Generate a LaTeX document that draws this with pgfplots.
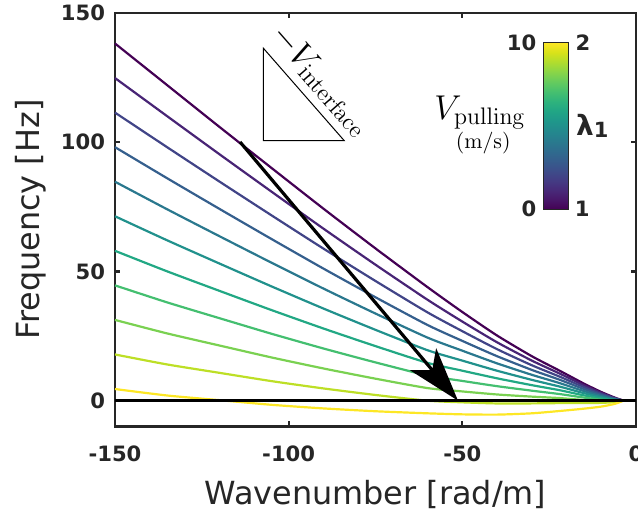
\documentclass[border=0pt]{standalone}
\usepackage[no-math]{fontspec}
\setmainfont{DejaVu Sans}
\usepackage{pgfplots}
\usepackage{pgfplotstable}
\pgfplotsset{compat=1.18}
\usetikzlibrary{arrows.meta}
\definecolor{c0}{HTML}{440154}
\definecolor{c1}{HTML}{482475}
\definecolor{c2}{HTML}{414487}
\definecolor{c3}{HTML}{355F8D}
\definecolor{c4}{HTML}{2A788E}
\definecolor{c5}{HTML}{21918C}
\definecolor{c6}{HTML}{22A884}
\definecolor{c7}{HTML}{44BF70}
\definecolor{c8}{HTML}{7AD151}
\definecolor{c9}{HTML}{BDDF26}
\definecolor{c10}{HTML}{FDE725}
\definecolor{axgray}{HTML}{262626}
\pgfplotstableread{
k     p0     p1     p2     p3     p4     p5     p6     p7     p8     p9     p10
-150  138.2  124.83 111.46 98.09  84.72  71.35  57.98  44.61  31.24  17.87  4.5
-135  122.1  110.09 98.08  86.07  74.06  62.05  50.04  38.03  26.02  14.01  2.0
-120  106.0  95.42  84.84  74.26  63.68  53.1   42.52  31.94  21.36  10.78  0.2
-105  90.1   80.93  71.76  62.59  53.42  44.25  35.08  25.91  16.74  7.57   -1.6
-90   74.3   66.57  58.84  51.11  43.38  35.65  27.92  20.19  12.46  4.73   -3.0
-75   58.9   52.6   46.3   40.0   33.7   27.4   21.1   14.8   8.5    2.2    -4.1
-60   43.9   39.02  34.14  29.26  24.38  19.5   14.62  9.74   4.86   -0.02  -4.9
-50   34.3   30.6   26.88  23.12  19.33  15.49  11.59  7.63   3.57   -0.65  -5.3
-40   25.2   22.58  19.92  17.2   14.42  11.58  8.64   5.6    2.39   -1.08  -5.4
-30   17.2   15.5   13.7   11.9   10.0   8.05   6.0    3.86   1.56   -1.06  -4.9
-22   11.6   10.5   9.3    8.1    6.8    5.45   4.05   2.56   1.0    -0.95  -4.0
-15   6.6    5.95   5.25   4.5    3.7    2.9    2.05   1.19   0.24   -0.95  -3.1
-10   3.35   3.0    2.6    2.2    1.78   1.33   0.86   0.36   -0.2   -0.85  -2.3
-6    1.12   0.98   0.83   0.67   0.5    0.33   0.15   -0.04  -0.28  -0.57  -1.2
-3.6  0      0      0      0      0      0      0      0      0      0      0
}\curves
\begin{document}
\begin{tikzpicture}
\begin{axis}[
  name=main,
  scale only axis, width=260.5bp, height=206.75bp,
  xmin=-150, xmax=0, ymin=-10, ymax=150,
  xtick={-150,-100,-50,0}, ytick={0,50,100,150},
  tick align=inside, major tick length=2.5bp,
  axis line style={line width=1.1bp, axgray},
  tick style={line width=1.1bp, axgray},
  /pgf/number format/assume math mode=true,
  ticklabel style={font=\fontsize{10.6}{12}\selectfont\bfseries, text=axgray},
  xticklabel style={yshift=-6bp},
  yticklabel style={xshift=-1.5bp},
  xlabel={Wavenumber [rad/m]}, ylabel={Frequency [Hz]},
  label style={font=\fontsize{16}{19}\selectfont, text=axgray},
  xlabel style={at={(axis description cs:0.5,-0.164)}, anchor=center},
  ylabel style={at={(axis description cs:-0.161,0.5)}, anchor=center},
  no markers, clip=false,
  colormap/viridis,
  point meta min=0, point meta max=10,
  colorbar shift/.style={},
  colorbar,
  colorbar style={
    at={(parent axis.south west)}, anchor=south west,
    xshift=214.2bp, yshift=108.6bp,
    width=12.5bp, height=83.3bp,
    ytick={0,10}, yticklabel pos=left,
    major tick length=0pt,
    axis line style={line width=0.6bp, axgray},
    /pgf/number format/assume math mode=true,
    yticklabel style={font=\fontsize{10.6}{12}\selectfont\bfseries, text=axgray},
  },
]
\pgfplotsinvokeforeach{0,...,10}{
  \addplot[color=c#1, line width=1.1bp, smooth, tension=0.4] table[x=k, y=p#1]{\curves};
}
\addplot[black, line width=1.5bp] coordinates {(-150,0) (0,0)};
\addplot[black, line width=1.6bp, -{Stealth[length=27bp, width=17bp, inset=7bp]}] coordinates {(-114,100.1) (-51.25,0)};
\addplot[black, line width=0.5bp, line join=miter] coordinates {(-107.3,136.4) (-107.3,100.6) (-84.0,100.6) (-107.3,136.4) (-107.3,100.6)};
\node[rotate=-48.8, font=\fontsize{16.5}{18}\selectfont] at (axis cs:-90.6,124.2) {$-V_{\mathrm{interface}}$};
\node[font=\fontsize{16.5}{18}\selectfont] at (axis cs:-44.9,111.5) {$V_{\mathrm{pulling}}$};
\node[font=\fontsize{11}{13}\selectfont] at (axis cs:-44,99.7) {$\mathrm{(m/s)}$};
\node[font=\fontsize{14}{16}\selectfont\bfseries, text=axgray] at (axis cs:-12.6,106.3) {λ\raisebox{-1.2bp}{\fontsize{10.5}{12}\selectfont 1}};
\node[font=\fontsize{10.6}{12}\selectfont\bfseries, text=axgray] at (axis cs:-15.3,138.5) {2};
\node[font=\fontsize{10.6}{12}\selectfont\bfseries, text=axgray] at (axis cs:-15.5,74.1) {1};
\end{axis}
\pgfresetboundingbox
\path[use as bounding box] ([shift={(-57.5bp,-42.25bp)}]main.south west) rectangle ([shift={(1bp,6.5bp)}]main.north east);
\end{tikzpicture}
\end{document}
